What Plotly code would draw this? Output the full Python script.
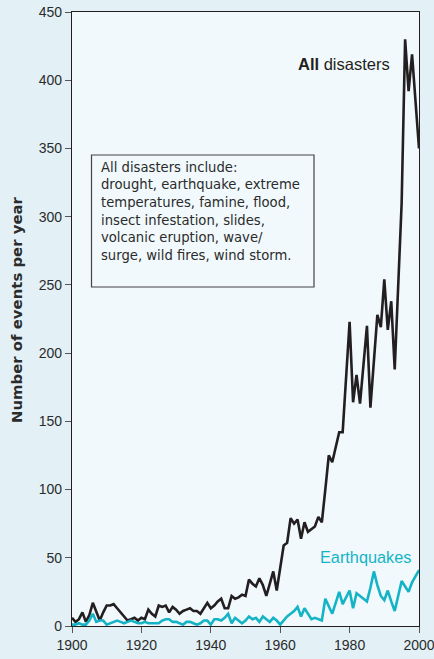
import plotly.graph_objects as go

years = list(range(1900, 2001))

all_disasters = [
    6, 3, 5, 10, 3, 8, 17, 10, 4, 10,          # 1900-1909
    15, 15, 16, 13, 10, 7, 4, 5, 6, 4,         # 1910-1919
    6, 5, 12, 9, 7, 15, 14, 15, 10, 14,        # 1920-1929
    12, 9, 11, 12, 13, 11, 11, 9, 13, 17,      # 1930-1939
    13, 15, 18, 20, 13, 13, 22, 20, 21, 23,    # 1940-1949
    22, 34, 31, 29, 35, 30, 22, 31, 40, 26,    # 1950-1959
    42, 59, 61, 79, 75, 78, 64, 76, 69, 71,    # 1960-1969
    73, 80, 76, 100, 125, 120, 131, 142, 142, 180,  # 1970-1979
    223, 164, 184, 163, 190, 220, 160, 194, 228, 219,  # 1980-1989
    254, 217, 238, 188, 245, 310, 430, 392, 419, 385,  # 1990-1999
    350,                                        # 2000
]

earthquakes = [
    1, 1, 2, 1, 1, 4, 9, 3, 4, 4,
    1, 2, 3, 4, 3, 2, 3, 4, 3, 2,
    2, 3, 2, 2, 2, 2, 4, 5, 5, 3,
    3, 2, 1, 3, 3, 2, 1, 2, 4, 4,
    1, 5, 5, 4, 6, 9, 2, 6, 4, 2,
    4, 7, 5, 6, 3, 7, 5, 3, 6, 4,
    1, 4, 7, 9, 11, 14, 7, 13, 9, 5,
    6, 5, 4, 20, 14, 9, 17, 25, 16, 21,
    26, 13, 24, 22, 20, 18, 28, 40, 30, 22,
    19, 26, 18, 11, 22, 33, 29, 25, 32, 37,
    41,
]

y_ticks = [0, 50, 100, 150, 200, 250, 300, 350, 400, 450]
x_ticks = [1900, 1920, 1940, 1960, 1980, 2000]

note_lines = [
    "All disasters include:",
    "drought, earthquake, extreme",
    "temperatures, famine, flood,",
    "insect infestation, slides,",
    "volcanic eruption, wave/",
    "surge, wild fires, wind storm.",
]

BLACK = "#231f20"
TEAL = "#14b4c6"
TEXT = "#2b2b2b"
FONT = "Liberation Sans, Arial, sans-serif"
WIDE = "DejaVu Sans, sans-serif"

W, H = 434, 659
ML, MR, MT, MB = 72, 15, 12, 33
PH = H - MT - MB
PW = W - ML - MR


def py(ypx):
    return (H - MB - ypx) / PH


def px(xpx):
    return (xpx - ML) / PW


fig = go.Figure()
fig.add_trace(go.Scatter(x=years, y=all_disasters, mode="lines",
                         line=dict(color=BLACK, width=2.6), hoverinfo="skip"))
fig.add_trace(go.Scatter(x=years, y=earthquakes, mode="lines",
                         line=dict(color=TEAL, width=2.6), hoverinfo="skip"))

annotations = [
    dict(text="<b>All</b> disasters", x=px(343.5), y=py(64), xref="paper", yref="paper",
         xanchor="center", yanchor="middle",
         showarrow=False, font=dict(family=FONT, size=16.5, color=BLACK)),
    dict(text="Earthquakes", x=px(365), y=py(557), xref="paper", yref="paper",
         xanchor="center", yanchor="middle",
         showarrow=False, font=dict(family=FONT, size=16.3, color=TEAL)),
    dict(text="<b>Number of events per year</b>", x=px(17), y=py(310),
         xref="paper", yref="paper", showarrow=False, textangle=-90,
         xanchor="center", yanchor="middle",
         font=dict(family=WIDE, size=14.9, color=TEXT)),
]
for i, line in enumerate(note_lines):
    annotations.append(dict(text=line, x=px(98.5), y=py(167 + 17.7 * i),
                            xref="paper", yref="paper", xanchor="left",
                            yanchor="middle", showarrow=False,
                            font=dict(family=WIDE, size=13.2, color=TEXT)))

fig.update_layout(
    width=W, height=H,
    margin=dict(l=ML, r=MR, t=MT, b=MB, autoexpand=False),
    paper_bgcolor="#e3f1f7",
    plot_bgcolor="#f1f9fc",
    showlegend=False,
    font=dict(family=FONT, size=14, color=TEXT),
    annotations=annotations,
    shapes=[dict(type="rect", xref="paper", yref="paper",
                 x0=px(91.5), x1=px(314), y0=py(287), y1=py(155),
                 line=dict(color="#444444", width=1.2), fillcolor="rgba(0,0,0,0)")],
)
fig.update_xaxes(range=[1900, 2000], tickvals=x_ticks, showgrid=False,
                 zeroline=False, showline=True, linecolor=BLACK, linewidth=1.2,
                 mirror=True, automargin=False, ticklabeloverflow="allow",
                 ticks="outside", ticklen=6, tickcolor="#555555",
                 tickfont=dict(family=FONT, size=14, color=TEXT))
fig.update_yaxes(range=[0, 450], tickvals=y_ticks, showgrid=False,
                 zeroline=False, showline=True, linecolor=BLACK, linewidth=1.2,
                 mirror=True, automargin=False, ticklabeloverflow="allow",
                 ticks="outside", ticklen=6, tickcolor="#555555",
                 tickfont=dict(family=FONT, size=14, color=TEXT))

fig.write_html("out.html", config={"displayModeBar": False},
               post_script="document.body.style.margin='0';document.body.style.overflow='hidden';")
